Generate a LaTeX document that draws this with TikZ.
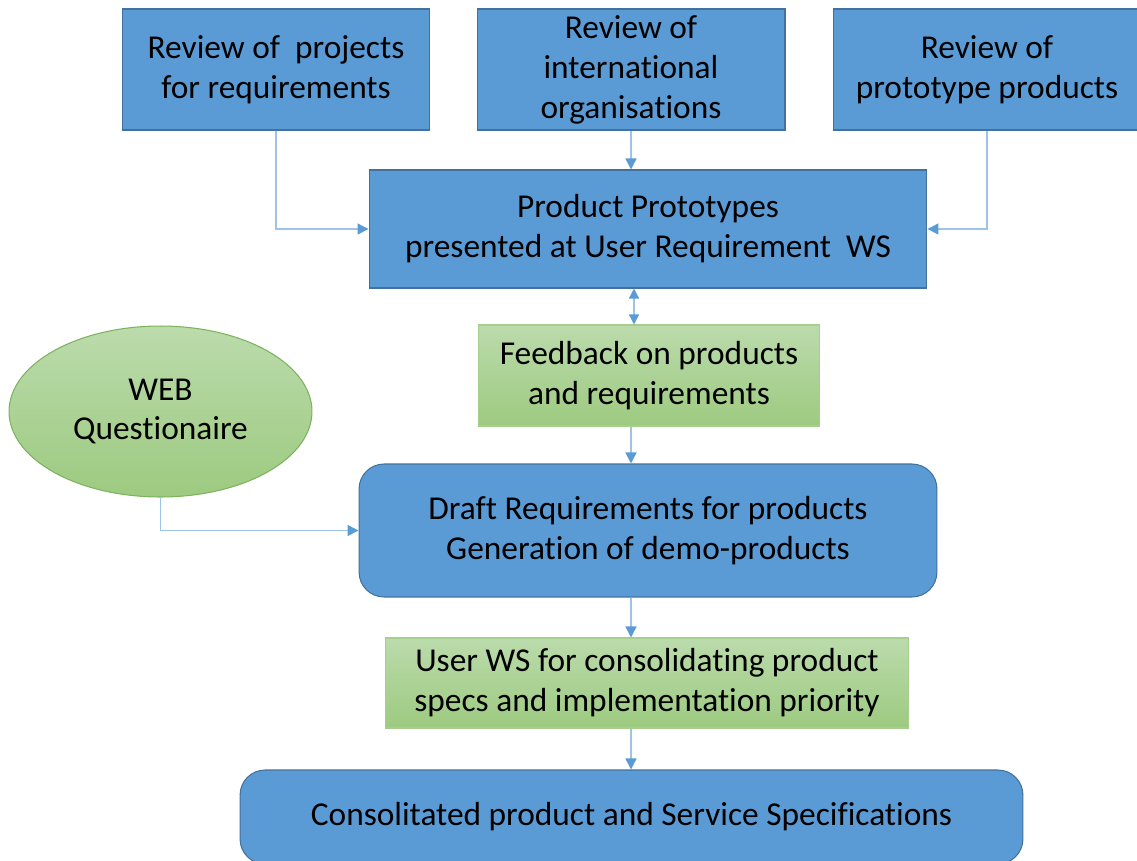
\documentclass[tikz,border=0pt]{standalone}
\usepackage{fontspec}
\setmainfont{Carlito}[Ligatures=NoCommon]
\usetikzlibrary{arrows.meta, shapes.geometric}

\definecolor{boxblue}{HTML}{5B9BD5}
\definecolor{edgeblue}{HTML}{41719C}
\definecolor{linkblue}{HTML}{9DC3E6}
\definecolor{greentop}{HTML}{BBDBAC}
\definecolor{greenbot}{HTML}{9DCA80}
\definecolor{edgegreen}{HTML}{A6CF8D}
\definecolor{ovalgreen}{HTML}{7DB35E}

\begin{document}
\begin{tikzpicture}[x=0.02cm, y=-0.02cm,
    every node/.style={font=\fontsize{19}{22.7}\selectfont, align=center, inner sep=0pt},
    bluebox/.style={rectangle, draw=edgeblue, fill=boxblue, line width=0.6pt},
    roundbox/.style={bluebox, rounded corners=0.5cm},
    greenbox/.style={rectangle, draw=edgegreen, top color=greentop, bottom color=greenbot, line width=0.6pt},
    link/.style={draw=linkblue, line width=0.8pt,
        -{Triangle[length=0.22cm, width=0.22cm, color=boxblue]}},
    twolink/.style={draw=linkblue, line width=0.8pt,
        {Triangle[length=0.2cm, width=0.2cm, color=boxblue]}-{Triangle[length=0.2cm, width=0.2cm, color=boxblue]}}
]
    \useasboundingbox (0,0) rectangle (1137,860);
    \clip (0,0) rectangle (1137,860);

    % the three reviews on top
    \node[bluebox, minimum width=6.16cm, minimum height=2.42cm] (rev1) at (276,69.5)
        {Review of\ \ projects\\for requirements};
    \node[bluebox, minimum width=6.16cm, minimum height=2.42cm] (rev2) at (631,69.5)
        {Review of\\international\\organisations};
    \node[bluebox, minimum width=6.16cm, minimum height=2.42cm] (rev3) at (987,69.5)
        {Review of\\prototype products};

    \node[bluebox, minimum width=11.16cm, minimum height=2.36cm] (proto) at (648,229)
        {Product Prototypes\\presented at User Requirement\ \ WS};
    \node[greenbox, minimum width=6.84cm, minimum height=2.02cm] (feed) at (649,375.5)
        {Feedback on products\\and requirements};
    \node[ellipse, draw=ovalgreen, top color=greentop, bottom color=greenbot, line width=0.6pt,
        minimum width=6.06cm, minimum height=3.42cm] (web) at (160.5,411.5)
        {WEB\\Questionaire};
    \node[roundbox, minimum width=11.56cm, minimum height=2.66cm] (draft) at (648,530.5)
        {Draft Requirements for products\\Generation of demo-products};
    \node[greenbox, minimum width=10.48cm, minimum height=1.8cm] (userws) at (647,683)
        {User WS for consolidating product\\specs and implementation priority};
    \node[roundbox, minimum width=15.66cm, minimum height=1.88cm] (cons) at (631.5,817)
        {Consolitated product and Service Specifications};

    \coordinate (spine) at (631,0);
    \coordinate (dbl) at (634,0);

    % connectors
    \draw[link] (rev1.south) |- (proto.west);
    \draw[link] (rev2.south) -- (rev2.south |- proto.north);
    \draw[link] (rev3.south) |- (proto.east);
    \draw[twolink] (dbl |- proto.south) -- (dbl |- feed.north);
    \draw[link] (spine |- feed.south) -- (spine |- draft.north);
    \draw[link] (web.south) |- (draft.west);
    \draw[link] (spine |- draft.south) -- (spine |- userws.north);
    \draw[link] (spine |- userws.south) -- (spine |- cons.north);
\end{tikzpicture}
\end{document}
